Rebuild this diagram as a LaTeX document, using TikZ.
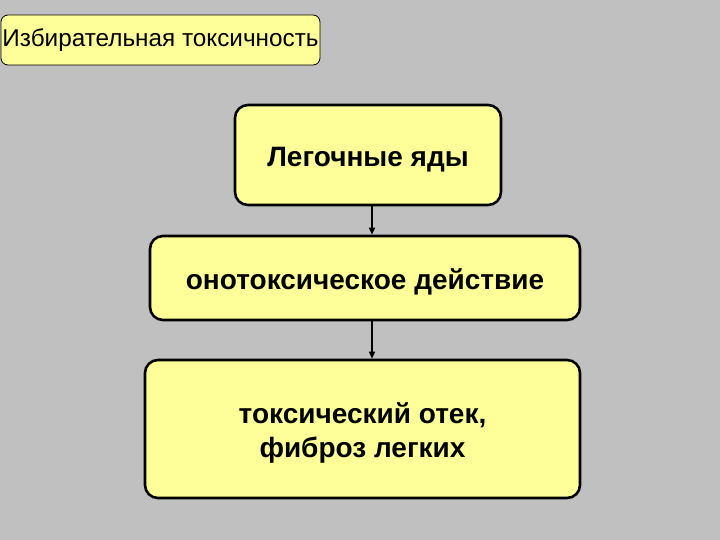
\documentclass[tikz,border=0pt]{standalone}
\usepackage{fontspec}
\setmainfont{Liberation Sans}
\usetikzlibrary{arrows.meta}
\definecolor{bg}{RGB}{192,192,192}
\definecolor{boxfill}{RGB}{255,255,153}
\newcommand\mytopstrut{\rule{0pt}{28pt}}
\tikzset{
  titlebox/.style={draw=black, line width=0.8pt, fill=boxfill, rounded corners=7pt, inner sep=0pt, font=\fontsize{24.3}{28}\selectfont},
  flowbox/.style={draw=black, line width=2.6pt, fill=boxfill, rounded corners=13pt, inner sep=0pt, align=center, font=\bfseries\fontsize{28}{34}\selectfont},
  arr/.style={-{Triangle[length=7pt,width=6pt]}, line width=1.5pt}
}
\begin{document}
\begin{tikzpicture}[x=1pt,y=1pt]
\fill[bg] (0,0) rectangle (720,-540);
\useasboundingbox (0,0) rectangle (720,-540);
\node[titlebox, minimum width=319pt, minimum height=50pt] (t) at (160.5,-40) {Избирательная токсичность};
\node[flowbox, minimum width=266pt, minimum height=100pt] (b1) at (368,-155) {\mytopstrut Легочные яды};
\node[flowbox, minimum width=430pt, minimum height=84pt] (b2) at (365,-278) {\mytopstrut онотоксическое действие};
\node[flowbox, minimum width=435pt, minimum height=138pt] (b3) at (362.5,-429) {\mytopstrut токсический отек,\\фиброз легких};
\draw[arr] ([xshift=4pt]b1.south) -- ([xshift=4pt]b1.south |- b2.north);
\draw[arr] ([xshift=7pt]b2.south) -- ([xshift=7pt]b2.south |- b3.north);
\end{tikzpicture}
\end{document}
